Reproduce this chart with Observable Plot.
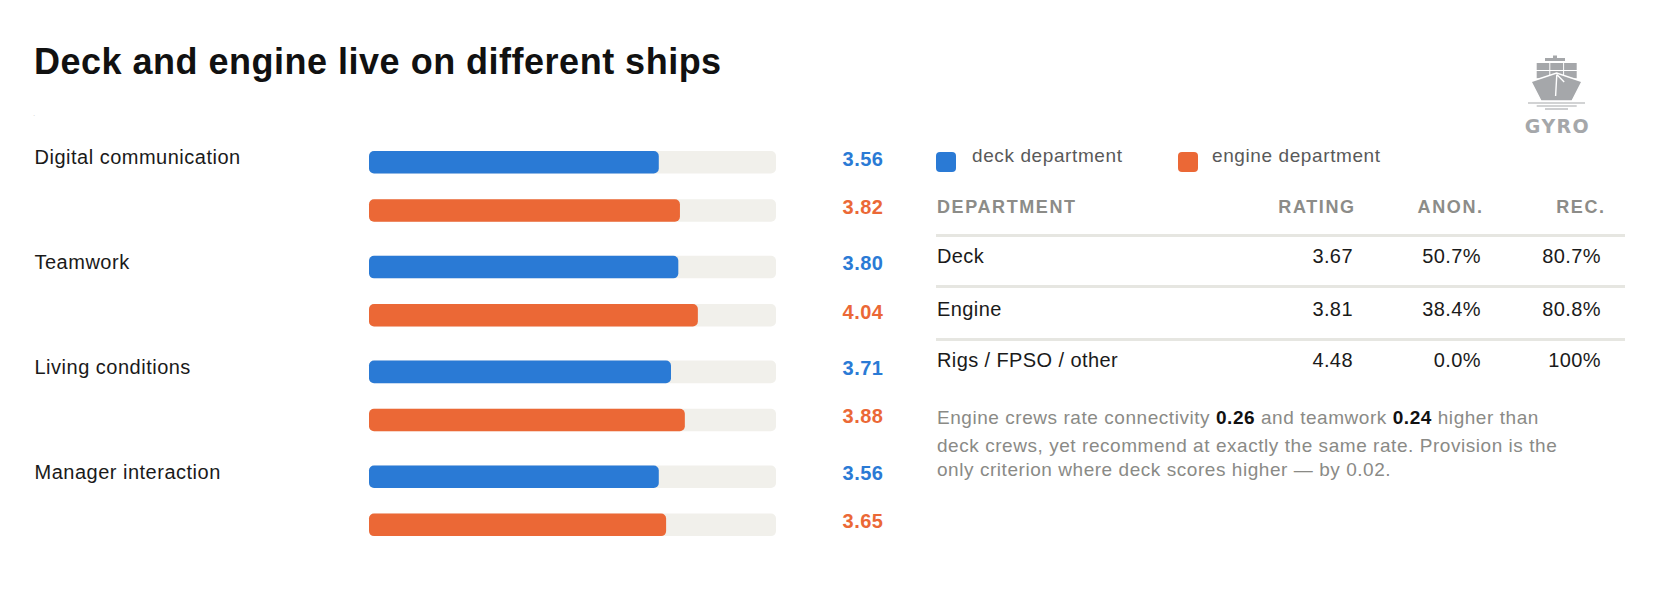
<!DOCTYPE html>
<html><head><meta charset="utf-8">
<script src="https://cdn.jsdelivr.net/npm/d3@7"></script>
<script src="https://cdn.jsdelivr.net/npm/@observablehq/plot@0.6"></script>
<style>
html,body{margin:0;padding:0;background:#fff;}
#wrap{position:relative;width:1675px;height:608px;overflow:hidden;font-family:"Liberation Sans",Arial,Helvetica,sans-serif;color:#1a1a1a;}
.abs{position:absolute;white-space:nowrap;}
#chart{position:absolute;left:0;top:120px;}
#chart svg text{letter-spacing:0.5px;}
#chart svg text.val{letter-spacing:0.8px;}
.rule{position:absolute;left:936px;width:689px;height:2.6px;background:#e6e6e1;}
.sw{position:absolute;width:20px;height:20px;border-radius:4px;}
</style></head><body>
<div id="wrap"><div id="chart"></div></div>
<script>
// ---- data ----
const title = "Deck and engine live on different ships";
const categories = ["Digital communication", "Teamwork", "Living conditions", "Manager interaction"];
const departments = ["deck", "engine"];
const deckValues = [3.56, 3.80, 3.71, 3.56];
const engineValues = [3.82, 4.04, 3.88, 3.65];
const scaleMax = 5;
const legendLabels = ["deck department", "engine department"];
const tableColumns = ["DEPARTMENT", "RATING", "ANON.", "REC."];
const tableDepartments = ["Deck", "Engine", "Rigs / FPSO / other"];
const tableRatings = ["3.67", "3.81", "4.48"];
const tableAnon = ["50.7%", "38.4%", "0.0%"];
const tableRec = ["80.7%", "80.8%", "100%"];
const noteLines = [
  ["Engine crews rate connectivity ", ["0.26"], " and teamwork ", ["0.24"], " higher than"],
  ["deck crews, yet recommend at exactly the same rate. Provision is the"],
  ["only criterion where deck scores higher \u2014 by 0.02."]
];

// ---- style ----
const BLUE = "#2a7ad5", ORANGE = "#eb6836", TRACK = "#f1f0eb";
const FONT = '"Liberation Sans", Arial, Helvetica, sans-serif';
const wrap = document.getElementById("wrap");

function place(content, o) {
  const d = document.createElement("div");
  d.className = "abs";
  const F = o.size;
  d.style.fontSize = F + "px";
  d.style.lineHeight = F + "px";
  d.style.top = (o.baseline - 0.8465 * F) + "px";
  if (o.right != null) d.style.right = (1675 - o.right - (o.ls || 0)) + "px";
  else d.style.left = o.x + "px";
  if (o.weight) d.style.fontWeight = o.weight;
  if (o.color) d.style.color = o.color;
  if (o.ls) d.style.letterSpacing = o.ls + "px";
  if (o.family) d.style.fontFamily = o.family;
  if (typeof content === "string") d.textContent = content;
  else content.forEach(seg => {
    const s = document.createElement("span");
    if (Array.isArray(seg)) { s.textContent = seg[0]; s.style.fontWeight = 700; s.style.color = "#111"; }
    else s.textContent = seg;
    d.appendChild(s);
  });
  wrap.appendChild(d);
  return d;
}

// title & faint subtitle
place(title, {x: 34, baseline: 74, size: 36, weight: 700, ls: 0.5, color: "#111"});
place(".", {x: 33, baseline: 117, size: 8, color: "#d0d0d0"});

// ---- bar chart ----
const rows = categories.flatMap((c, i) => [
  {category: c, dept: departments[0], value: deckValues[i]},
  {category: c, dept: departments[1], value: engineValues[i]}
]);

const chart = Plot.plot({
  width: 900, height: 440,
  marginLeft: 369, marginRight: 124, marginTop: 31.05, marginBottom: 23.9,
  style: {fontFamily: FONT, background: "transparent", overflow: "visible"},
  x: {domain: [0, scaleMax], axis: null},
  y: {domain: departments, axis: null, paddingInner: 0.533, paddingOuter: 0, round: false},
  fy: {domain: categories, axis: null, paddingInner: 0.3254, paddingOuter: 0, round: false},
  color: {domain: departments, range: [BLUE, ORANGE]},
  marks: [
    Plot.barX(rows, {fy: "category", y: "dept", x1: 0, x2: scaleMax, fill: TRACK, rx: 5}),
    Plot.barX(rows, {fy: "category", y: "dept", x1: 0, x2: "value", fill: "dept", rx: 5}),
    Plot.text(rows, {fy: "category", y: "dept", x: scaleMax, text: d => d.value.toFixed(2),
      dx: 107, dy: -3.5, textAnchor: "end", fill: "dept", fontWeight: "bold", fontSize: 20, className: "val"}),
    Plot.text(categories, {fy: d => d, y: () => departments[0], x: 0, text: d => d,
      dx: -335, dy: -5, textAnchor: "start", fontSize: 20, fill: "#1a1a1a"})
  ]
});
document.getElementById("chart").appendChild(chart);

// ---- legend ----
const swX = [936, 1178], lblX = [972, 1212], swC = [BLUE, ORANGE];
legendLabels.forEach((t, i) => {
  const s = document.createElement("div");
  s.className = "sw";
  s.style.left = swX[i] + "px"; s.style.top = "152px"; s.style.background = swC[i];
  wrap.appendChild(s);
  place(t, {x: lblX[i], baseline: 162, size: 19, ls: 0.6, color: "#595959"});
});

// ---- table ----
const colRight = [null, 1354, 1482, 1604];
tableColumns.forEach((t, i) => {
  const o = {baseline: 213.3, size: 18, weight: 700, ls: 1.6, color: "#8c8c88"};
  if (i === 0) o.x = 937; else o.right = colRight[i];
  place(t, o);
});
[234, 285.2, 338.4].forEach(y => {
  const r = document.createElement("div");
  r.className = "rule"; r.style.top = y + "px";
  wrap.appendChild(r);
});
const rowBase = [263.3, 315.8, 367];
const valRight = [1352.5, 1480.5, 1600.5];
tableDepartments.forEach((t, i) => {
  place(t, {x: 937, baseline: rowBase[i], size: 20, ls: 0.4, color: "#1a1a1a"});
  [tableRatings, tableAnon, tableRec].forEach((col, j) => {
    place(col[i], {right: valRight[j], baseline: rowBase[i], size: 20, ls: 0.4, color: "#1a1a1a"});
  });
});

// ---- note ----
const noteBase = [424.3, 452.3, 476.2];
noteLines.forEach((segs, i) => place(segs, {x: 937, baseline: noteBase[i], size: 19, ls: 0.55, color: "#8a8a86"}));

// ---- logo ----
const NS = "http://www.w3.org/2000/svg";
const logo = document.createElementNS(NS, "svg");
logo.setAttribute("width", 80); logo.setAttribute("height", 90);
logo.setAttribute("style", "position:absolute;left:1520px;top:50px;");
const G = "#a5a7aa";
logo.innerHTML = `
  <g fill="${G}">
    <rect x="33" y="5.5" width="4" height="2.6"/>
    <rect x="25" y="8" width="20" height="3"/>
    <rect x="16.7" y="13" width="12.6" height="7"/>
    <rect x="30.3" y="13" width="12.8" height="7"/>
    <rect x="44.1" y="13" width="12.6" height="7"/>
    <rect x="16.7" y="21" width="12.6" height="7.3"/>
    <rect x="30.3" y="21" width="12.8" height="7.3"/>
    <rect x="44.1" y="21" width="12.6" height="7.3"/>
    <path d="M11,31.5 L36.6,23 L62,31.5 L52,51 L21,51 Z" stroke="#fff" stroke-width="1.4" stroke-linejoin="miter"/>
  </g>
  <path d="M36.8,24.6 L35.6,46 M36.8,24.6 L44.2,32" stroke="#fff" stroke-width="1.4" fill="none"/>
  <g stroke="${G}" stroke-width="1.1">
    <line x1="8" y1="53" x2="65" y2="53"/>
    <line x1="16.7" y1="56" x2="56.7" y2="56"/>
    <line x1="25" y1="59" x2="48" y2="59"/>
  </g>
  <text x="37.5" y="82.5" text-anchor="middle" fill="${G}" font-family="DejaVu Sans, sans-serif" font-weight="bold" font-size="19" letter-spacing="1.4">GYRO</text>`;
wrap.appendChild(logo);
</script>
</body></html>
